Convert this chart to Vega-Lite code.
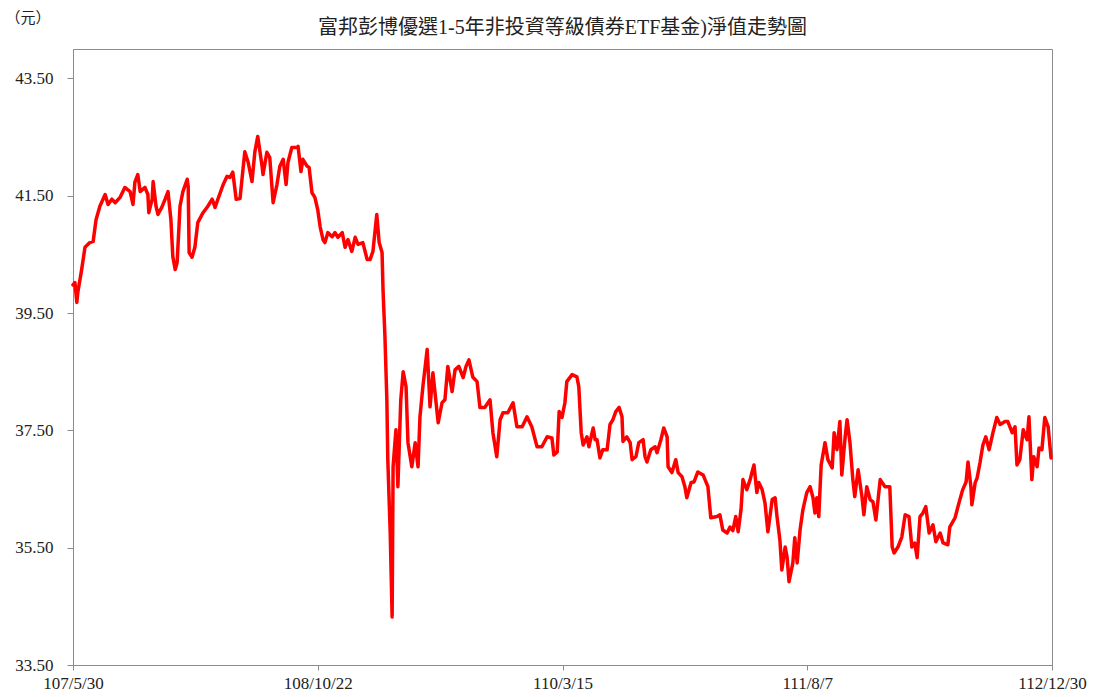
{
  "$schema": "https://vega.github.io/schema/vega-lite/v6.json",
  "autosize": "none",
  "width": 979,
  "height": 616,
  "padding": {"left": 73, "top": 49, "right": 41, "bottom": 32},
  "background": "white",
  "config": {
    "view": {"stroke": "#8c8c8c", "strokeWidth": 1},
    "font": "'Liberation Serif', 'DejaVu Serif', serif"
  },
  "title": {
    "text": "富邦彭博優選1-5年非投資等級債券ETF基金)淨值走勢圖",
    "font": "'Liberation Serif', 'Noto Sans CJK TC', serif",
    "fontSize": 20,
    "fontWeight": "normal",
    "color": "#222222",
    "anchor": "middle",
    "offset": 0,
    "dy": 28
  },
  "data": {
    "values": [
      {"day": 0, "nav": 39.98}, {"day": 4, "nav": 40.02}, {"day": 8, "nav": 39.68}, {"day": 10, "nav": 39.85},
      {"day": 18, "nav": 40.24}, {"day": 25, "nav": 40.62}, {"day": 35, "nav": 40.70}, {"day": 42, "nav": 40.72},
      {"day": 48, "nav": 41.09}, {"day": 56, "nav": 41.32}, {"day": 67, "nav": 41.52}, {"day": 73, "nav": 41.35},
      {"day": 81, "nav": 41.44}, {"day": 88, "nav": 41.38}, {"day": 98, "nav": 41.47}, {"day": 108, "nav": 41.64},
      {"day": 119, "nav": 41.57}, {"day": 125, "nav": 41.35}, {"day": 129, "nav": 41.73}, {"day": 135, "nav": 41.86},
      {"day": 140, "nav": 41.57}, {"day": 150, "nav": 41.64}, {"day": 156, "nav": 41.52}, {"day": 158, "nav": 41.21},
      {"day": 165, "nav": 41.44}, {"day": 167, "nav": 41.74}, {"day": 173, "nav": 41.32}, {"day": 177, "nav": 41.18},
      {"day": 185, "nav": 41.30}, {"day": 192, "nav": 41.44}, {"day": 198, "nav": 41.57}, {"day": 204, "nav": 41.09},
      {"day": 208, "nav": 40.46}, {"day": 213, "nav": 40.24}, {"day": 217, "nav": 40.36}, {"day": 223, "nav": 41.32},
      {"day": 229, "nav": 41.57}, {"day": 238, "nav": 41.78}, {"day": 240, "nav": 41.66}, {"day": 242, "nav": 40.53},
      {"day": 248, "nav": 40.45}, {"day": 254, "nav": 40.62}, {"day": 260, "nav": 41.04}, {"day": 271, "nav": 41.21},
      {"day": 281, "nav": 41.32}, {"day": 290, "nav": 41.44}, {"day": 296, "nav": 41.30}, {"day": 302, "nav": 41.44},
      {"day": 313, "nav": 41.69}, {"day": 321, "nav": 41.83}, {"day": 327, "nav": 41.81}, {"day": 333, "nav": 41.90},
      {"day": 340, "nav": 41.44}, {"day": 348, "nav": 41.45}, {"day": 358, "nav": 42.25}, {"day": 365, "nav": 42.07},
      {"day": 373, "nav": 41.74}, {"day": 379, "nav": 42.25}, {"day": 385, "nav": 42.51}, {"day": 394, "nav": 42.00},
      {"day": 396, "nav": 41.86}, {"day": 404, "nav": 42.24}, {"day": 410, "nav": 42.15}, {"day": 417, "nav": 41.38},
      {"day": 425, "nav": 41.69}, {"day": 431, "nav": 42.00}, {"day": 438, "nav": 42.12}, {"day": 444, "nav": 41.69},
      {"day": 448, "nav": 42.07}, {"day": 456, "nav": 42.32}, {"day": 467, "nav": 42.32}, {"day": 469, "nav": 42.34},
      {"day": 475, "nav": 41.91}, {"day": 479, "nav": 42.12}, {"day": 488, "nav": 42.00}, {"day": 492, "nav": 41.98},
      {"day": 498, "nav": 41.55}, {"day": 504, "nav": 41.47}, {"day": 510, "nav": 41.26}, {"day": 515, "nav": 40.97},
      {"day": 521, "nav": 40.75}, {"day": 525, "nav": 40.70}, {"day": 531, "nav": 40.87}, {"day": 540, "nav": 40.80},
      {"day": 546, "nav": 40.87}, {"day": 552, "nav": 40.79}, {"day": 561, "nav": 40.87}, {"day": 567, "nav": 40.62},
      {"day": 573, "nav": 40.75}, {"day": 581, "nav": 40.55}, {"day": 588, "nav": 40.79}, {"day": 594, "nav": 40.67},
      {"day": 604, "nav": 40.70}, {"day": 613, "nav": 40.41}, {"day": 619, "nav": 40.41}, {"day": 625, "nav": 40.55},
      {"day": 633, "nav": 41.18}, {"day": 638, "nav": 40.70}, {"day": 644, "nav": 40.53}, {"day": 646, "nav": 39.90},
      {"day": 650, "nav": 39.10}, {"day": 654, "nav": 38.02}, {"day": 656, "nav": 37.00}, {"day": 661, "nav": 35.75},
      {"day": 665, "nav": 34.32}, {"day": 667, "nav": 36.88}, {"day": 673, "nav": 37.51}, {"day": 677, "nav": 36.54},
      {"day": 683, "nav": 38.02}, {"day": 688, "nav": 38.50}, {"day": 694, "nav": 38.24}, {"day": 698, "nav": 37.29},
      {"day": 706, "nav": 36.88}, {"day": 713, "nav": 37.29}, {"day": 719, "nav": 36.88}, {"day": 723, "nav": 37.73},
      {"day": 729, "nav": 38.24}, {"day": 738, "nav": 38.88}, {"day": 744, "nav": 37.90}, {"day": 750, "nav": 38.48},
      {"day": 761, "nav": 37.63}, {"day": 769, "nav": 37.97}, {"day": 775, "nav": 38.02}, {"day": 781, "nav": 38.59},
      {"day": 790, "nav": 38.16}, {"day": 796, "nav": 38.53}, {"day": 804, "nav": 38.59}, {"day": 813, "nav": 38.40},
      {"day": 819, "nav": 38.59}, {"day": 825, "nav": 38.70}, {"day": 833, "nav": 38.41}, {"day": 842, "nav": 38.33},
      {"day": 848, "nav": 37.89}, {"day": 858, "nav": 37.89}, {"day": 869, "nav": 38.02}, {"day": 875, "nav": 37.46},
      {"day": 883, "nav": 37.05}, {"day": 890, "nav": 37.68}, {"day": 896, "nav": 37.80}, {"day": 906, "nav": 37.80},
      {"day": 917, "nav": 37.97}, {"day": 925, "nav": 37.56}, {"day": 936, "nav": 37.56}, {"day": 946, "nav": 37.73},
      {"day": 956, "nav": 37.56}, {"day": 967, "nav": 37.22}, {"day": 977, "nav": 37.22}, {"day": 988, "nav": 37.39},
      {"day": 998, "nav": 37.37}, {"day": 1002, "nav": 37.08}, {"day": 1009, "nav": 37.13}, {"day": 1013, "nav": 37.82},
      {"day": 1019, "nav": 37.72}, {"day": 1025, "nav": 37.97}, {"day": 1029, "nav": 38.33}, {"day": 1040, "nav": 38.45},
      {"day": 1050, "nav": 38.41}, {"day": 1054, "nav": 38.24}, {"day": 1059, "nav": 37.46}, {"day": 1063, "nav": 37.25},
      {"day": 1071, "nav": 37.39}, {"day": 1075, "nav": 37.22}, {"day": 1084, "nav": 37.54}, {"day": 1088, "nav": 37.34},
      {"day": 1092, "nav": 37.34}, {"day": 1098, "nav": 37.03}, {"day": 1104, "nav": 37.17}, {"day": 1113, "nav": 37.17},
      {"day": 1119, "nav": 37.60}, {"day": 1125, "nav": 37.68}, {"day": 1131, "nav": 37.82}, {"day": 1138, "nav": 37.89},
      {"day": 1144, "nav": 37.73}, {"day": 1146, "nav": 37.31}, {"day": 1154, "nav": 37.39}, {"day": 1161, "nav": 37.29},
      {"day": 1165, "nav": 37.00}, {"day": 1173, "nav": 37.05}, {"day": 1179, "nav": 37.29}, {"day": 1188, "nav": 37.34},
      {"day": 1192, "nav": 37.05}, {"day": 1196, "nav": 36.96}, {"day": 1204, "nav": 37.17}, {"day": 1213, "nav": 37.22},
      {"day": 1217, "nav": 37.12}, {"day": 1225, "nav": 37.34}, {"day": 1231, "nav": 37.54}, {"day": 1238, "nav": 37.39},
      {"day": 1240, "nav": 36.88}, {"day": 1248, "nav": 36.78}, {"day": 1256, "nav": 37.00}, {"day": 1261, "nav": 36.78},
      {"day": 1269, "nav": 36.71}, {"day": 1275, "nav": 36.54}, {"day": 1279, "nav": 36.35}, {"day": 1288, "nav": 36.61},
      {"day": 1294, "nav": 36.62}, {"day": 1302, "nav": 36.79}, {"day": 1313, "nav": 36.74}, {"day": 1317, "nav": 36.66},
      {"day": 1323, "nav": 36.54}, {"day": 1329, "nav": 36.01}, {"day": 1342, "nav": 36.03}, {"day": 1348, "nav": 36.06},
      {"day": 1354, "nav": 35.80}, {"day": 1363, "nav": 35.75}, {"day": 1369, "nav": 35.85}, {"day": 1375, "nav": 35.79},
      {"day": 1381, "nav": 36.03}, {"day": 1386, "nav": 35.77}, {"day": 1392, "nav": 36.15}, {"day": 1396, "nav": 36.66},
      {"day": 1404, "nav": 36.49}, {"day": 1411, "nav": 36.66}, {"day": 1415, "nav": 36.79}, {"day": 1419, "nav": 36.91},
      {"day": 1425, "nav": 36.44}, {"day": 1429, "nav": 36.61}, {"day": 1436, "nav": 36.49}, {"day": 1442, "nav": 36.26},
      {"day": 1448, "nav": 35.77}, {"day": 1457, "nav": 36.32}, {"day": 1463, "nav": 36.35}, {"day": 1467, "nav": 36.03},
      {"day": 1473, "nav": 35.63}, {"day": 1477, "nav": 35.12}, {"day": 1484, "nav": 35.51}, {"day": 1488, "nav": 35.34},
      {"day": 1492, "nav": 34.92}, {"day": 1500, "nav": 35.24}, {"day": 1504, "nav": 35.67}, {"day": 1509, "nav": 35.24},
      {"day": 1515, "nav": 35.80}, {"day": 1521, "nav": 36.15}, {"day": 1529, "nav": 36.44}, {"day": 1536, "nav": 36.54},
      {"day": 1542, "nav": 36.35}, {"day": 1546, "nav": 36.09}, {"day": 1550, "nav": 36.35}, {"day": 1554, "nav": 36.03},
      {"day": 1559, "nav": 36.91}, {"day": 1567, "nav": 37.29}, {"day": 1573, "nav": 37.00}, {"day": 1582, "nav": 36.86},
      {"day": 1586, "nav": 37.46}, {"day": 1592, "nav": 37.17}, {"day": 1598, "nav": 37.65}, {"day": 1602, "nav": 36.74},
      {"day": 1609, "nav": 37.39}, {"day": 1613, "nav": 37.68}, {"day": 1619, "nav": 37.29}, {"day": 1625, "nav": 36.66},
      {"day": 1629, "nav": 36.37}, {"day": 1636, "nav": 36.83}, {"day": 1644, "nav": 36.37}, {"day": 1648, "nav": 36.06},
      {"day": 1654, "nav": 36.54}, {"day": 1661, "nav": 36.32}, {"day": 1667, "nav": 36.28}, {"day": 1673, "nav": 35.97},
      {"day": 1682, "nav": 36.66}, {"day": 1692, "nav": 36.54}, {"day": 1702, "nav": 36.54}, {"day": 1707, "nav": 35.51},
      {"day": 1711, "nav": 35.41}, {"day": 1719, "nav": 35.51}, {"day": 1727, "nav": 35.68}, {"day": 1734, "nav": 36.06},
      {"day": 1742, "nav": 36.03}, {"day": 1748, "nav": 35.51}, {"day": 1754, "nav": 35.58}, {"day": 1759, "nav": 35.33},
      {"day": 1765, "nav": 36.03}, {"day": 1771, "nav": 36.09}, {"day": 1777, "nav": 36.20}, {"day": 1784, "nav": 35.75},
      {"day": 1792, "nav": 35.89}, {"day": 1798, "nav": 35.60}, {"day": 1807, "nav": 35.75}, {"day": 1813, "nav": 35.58},
      {"day": 1823, "nav": 35.55}, {"day": 1827, "nav": 35.85}, {"day": 1838, "nav": 36.01}, {"day": 1846, "nav": 36.26},
      {"day": 1854, "nav": 36.49}, {"day": 1861, "nav": 36.62}, {"day": 1865, "nav": 36.96}, {"day": 1871, "nav": 36.54},
      {"day": 1873, "nav": 36.23}, {"day": 1880, "nav": 36.61}, {"day": 1884, "nav": 36.69}, {"day": 1890, "nav": 36.95},
      {"day": 1896, "nav": 37.25}, {"day": 1902, "nav": 37.39}, {"day": 1909, "nav": 37.17}, {"day": 1917, "nav": 37.46},
      {"day": 1925, "nav": 37.72}, {"day": 1932, "nav": 37.60}, {"day": 1942, "nav": 37.65}, {"day": 1948, "nav": 37.65},
      {"day": 1957, "nav": 37.46}, {"day": 1963, "nav": 37.56}, {"day": 1967, "nav": 36.91}, {"day": 1973, "nav": 37.00},
      {"day": 1980, "nav": 37.51}, {"day": 1988, "nav": 37.34}, {"day": 1992, "nav": 37.73}, {"day": 1998, "nav": 36.66},
      {"day": 2002, "nav": 37.05}, {"day": 2009, "nav": 36.88}, {"day": 2013, "nav": 37.20}, {"day": 2019, "nav": 37.17},
      {"day": 2025, "nav": 37.72}, {"day": 2032, "nav": 37.56}, {"day": 2038, "nav": 37.03}
    ]
  },
  "mark": {"type": "line", "color": "#ff0000", "strokeWidth": 3.5, "strokeJoin": "round", "strokeCap": "round"},
  "encoding": {
    "x": {
      "field": "day",
      "type": "quantitative",
      "scale": {"domain": [0, 2040], "nice": false, "zero": false},
      "axis": {
        "title": null,
        "grid": false,
        "values": [0, 510, 1020, 1530, 2040],
        "labelExpr": "{'0': '107/5/30', '510': '108/10/22', '1020': '110/3/15', '1530': '111/8/7', '2040': '112/12/30'}[datum.value + '']",
        "labelFlush": false,
        "labelOverlap": false,
        "labelBound": false,
        "labelFont": "'Liberation Serif', 'DejaVu Serif', serif",
        "labelFontSize": 17,
        "labelColor": "#222222",
        "labelPadding": 5,
        "tickSize": 5,
        "tickColor": "#8c8c8c",
        "domainColor": "#8c8c8c"
      }
    },
    "y": {
      "field": "nav",
      "type": "quantitative",
      "scale": {"domain": [33.5, 44.0], "nice": false, "zero": false},
      "axis": {
        "title": "（元）",
        "titleAngle": 0,
        "titleAlign": "left",
        "titleBaseline": "middle",
        "titleX": -68,
        "titleY": -32,
        "titleFont": "'Liberation Serif', 'Noto Sans CJK TC', serif",
        "titleFontSize": 15,
        "titleFontWeight": "normal",
        "titleColor": "#222222",
        "grid": false,
        "values": [33.5, 35.5, 37.5, 39.5, 41.5, 43.5],
        "format": ".2f",
        "labelFont": "'Liberation Serif', 'DejaVu Serif', serif",
        "labelFontSize": 17,
        "labelColor": "#222222",
        "labelPadding": 14,
        "tickSize": 6,
        "tickColor": "#8c8c8c",
        "domainColor": "#8c8c8c"
      }
    }
  }
}
